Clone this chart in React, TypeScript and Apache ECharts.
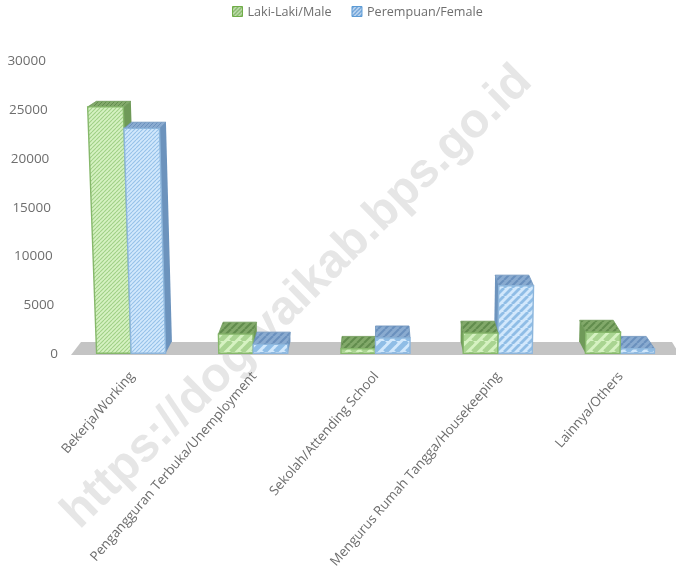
import React, { useEffect, useRef } from "react";
import * as echarts from "echarts";

const categories = [
  "Bekerja/Working",
  "Pengangguran Terbuka/Unemployment",
  "Sekolah/Attending School",
  "Mengurus Rumah Tangga/Housekeeping",
  "Lainnya/Others",
];
const maleValues = [25200, 1950, 450, 2050, 2150];
const femaleValues = [23000, 900, 1550, 6900, 450];
const yTicks = { min: 0, max: 30000, interval: 5000 };
const watermark = "https://dogiyaikab.bps.go.id";

function hatch(bg: string, fg: string, size = 6, lw = 1.6) {
  const c = document.createElement("canvas");
  c.width = size;
  c.height = size;
  const g = c.getContext("2d")!;
  g.fillStyle = bg;
  g.fillRect(0, 0, size, size);
  g.strokeStyle = fg;
  g.lineWidth = lw;
  for (const o of [-size, 0, size]) {
    g.beginPath();
    g.moveTo(o, size);
    g.lineTo(o + size, 0);
    g.stroke();
  }
  return { image: c, repeat: "repeat", imageWidth: size, imageHeight: size } as any;
}

function makeRender(isMale: boolean, bg: string, fg: string, strong: string, topBg: string, topFg: string, side: string, border: string) {
  const fine = hatch(bg, fg, 4, 1.1);
  const mid = hatch(bg, strong, 8, 2.8);
  const big = hatch(bg, strong, 11, 5);
  const topFine = hatch(topBg, topFg, 4, 1);
  const topBig = hatch(topBg, topFg, 7, 2);
  return (params: any, api: any) => {
    const cat = api.value(0);
    const v = api.value(1);
    const base = api.coord([cat, 0]);
    const tip = api.coord([cat, v]);
    const barW = 34.5;
    const cx = base[0];
    const xL = isMale ? cx - barW : cx;
    const xR = isMale ? cx : cx + barW;
    const yB = base[1];
    const yT = tip[1];
    const h = yB - yT;
    const front = h > 120 ? fine : h > 40 ? mid : big;
    const top = h > 120 ? topFine : topBig;
    const z2 = isMale ? (cat >= 3 ? 20 : 10) : 15;
    const vp = 376;
    const lean = (x: number) => x + (x - vp) * h * 0.00013;
    const k = (x: number) => x + (vp - x) * 0.03;
    const fl = [lean(xL), yT];
    const fr = [lean(xR), yT];
    const depth = 12 - (335 - yT) * 0.028;
    const bl = [k(fl[0]), yT - depth];
    const br = [k(fr[0]), yT - depth];
    const children: any[] = [];
    if (br[0] > fr[0]) {
      children.push({
        type: "polygon",
        z2,
        shape: { points: [fr, br, [k(xR), yB - 12], [xR, yB]] },
        style: { fill: side },
      });
    }
    if (bl[0] < fl[0]) {
      children.push({
        type: "polygon",
        z2,
        shape: { points: [fl, bl, [k(xL), yB - 12], [xL, yB]] },
        style: { fill: side },
      });
    }
    children.push({
      type: "polygon",
      z2,
      shape: { points: [fl, fr, br, bl] },
      style: { fill: top, stroke: side, lineWidth: 0.8 },
    });
    children.push({
      type: "polygon",
      z2,
      shape: { points: [[xL, yB], [xR, yB], fr, fl] },
      style: { fill: front, stroke: border, lineWidth: 1.4 },
    });
    return { type: "group", children };
  };
}

const tickStyles: Record<string, any> = {};
for (let t = yTicks.min; t <= yTicks.max; t += yTicks.interval) {
  tickStyles["t" + t] = {
    color: "#6e6e6e",
    fontSize: 13.5,
    fontFamily: "Open Sans",
    padding: [0, t === 0 ? 0 : 2 + (t / yTicks.max) * 10, 0, 0],
  };
}

export default function App() {
  const ref = useRef<HTMLDivElement>(null);
  useEffect(() => {
    const chart = echarts.init(ref.current!, undefined, { renderer: "svg" });
    chart.setOption({
      animation: false,
      backgroundColor: "#ffffff",
      textStyle: { fontFamily: "Open Sans" },
      legend: {
        top: 0,
        left: 227,
        itemWidth: 10,
        itemHeight: 10,
        itemGap: 20,
        icon: "rect",
        textStyle: { color: "#6e6e6e", fontSize: 12.6, fontFamily: "Open Sans" },
        data: [
          { name: "Laki-Laki/Male", itemStyle: { color: hatch("#7cb25e", "#e2f2d6", 4, 1.2), borderColor: "#70ad47", borderWidth: 1 } },
          { name: "Perempuan/Female", itemStyle: { color: hatch("#6ea2d8", "#dcebf9", 4, 1.2), borderColor: "#5b9bd5", borderWidth: 1 } },
        ],
      },
      grid: { left: 70, width: 611, top: 60, height: 294, containLabel: false },
      xAxis: {
        type: "category",
        data: categories,
        axisLine: { show: false },
        axisTick: { show: false },
        axisLabel: {
          rotate: 49,
          interval: 0,
          color: "#6e6e6e",
          fontSize: 13.3,
          fontFamily: "Open Sans",
          margin: 20,
        },
      },
      yAxis: {
        type: "value",
        min: yTicks.min,
        max: yTicks.max,
        interval: yTicks.interval,
        splitLine: { show: false },
        axisLine: { show: false },
        axisTick: { show: false },
        axisLabel: {
          margin: 12,
          formatter: (v: number) => `{t${v}|${v}}`,
          rich: tickStyles,
        },
      },
      graphic: [
        {
          type: "text",
          z: -2,
          x: 295,
          y: 295,
          rotation: (44.5 * Math.PI) / 180,
          style: {
            text: watermark,
            fill: "#e6e6e6",
            font: "bold 48px 'Liberation Sans'",
            align: "center",
            verticalAlign: "middle",
          },
        },
        {
          type: "polygon",
          z: -1,
          shape: { points: [[71, 355], [81, 342], [672, 342], [680, 355]] },
          style: { fill: "#c4c4c4" },
        },
      ],
      series: [
        {
          type: "custom",
          name: "Laki-Laki/Male",
          z: 3,
          itemStyle: { color: "#7cb25e" },
          renderItem: makeRender(true, "#d6f2c2", "#9fcf86", "#a9d491", "#82a96a", "#618c4d", "#6f9a58", "#86b86b"),
          encode: { x: 0, y: 1 },
          data: maleValues.map((v, i) => [i, v]),
        },
        {
          type: "custom",
          name: "Perempuan/Female",
          z: 3,
          itemStyle: { color: "#6ea2d8" },
          renderItem: makeRender(false, "#d2e8fc", "#96c1e8", "#8fbde6", "#8aabd0", "#6a90bd", "#6c93bd", "#8db6dc"),
          encode: { x: 0, y: 1 },
          data: femaleValues.map((v, i) => [i, v]),
        },
      ],
    });
    return () => chart.dispose();
  }, []);
  return (
    <div style={{ position: "absolute", left: 0, top: 0, width: 676, height: 570, overflow: "hidden" }}>
      <div ref={ref} style={{ width: 690, height: 570, filter: "blur(0.4px)" }} />
    </div>
  );
}
